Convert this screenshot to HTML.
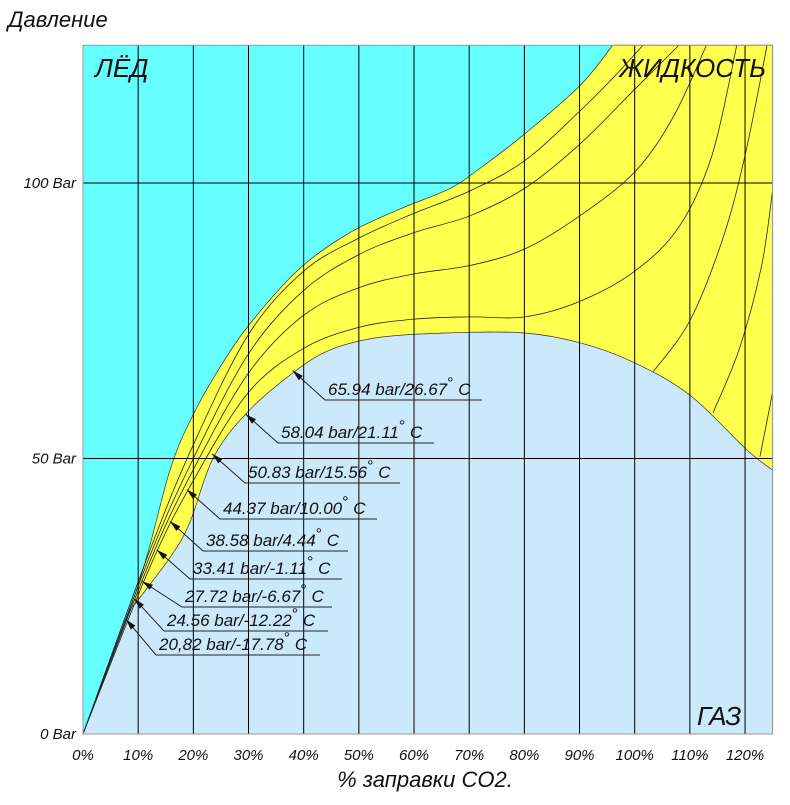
<!DOCTYPE html>
<html><head><meta charset="utf-8"><style>
body{margin:0;background:#fff;width:790px;height:800px;overflow:hidden}
svg text{font-family:"Liberation Sans",sans-serif;font-style:italic}
</style></head><body>
<svg id="c" width="790" height="800" xmlns="http://www.w3.org/2000/svg"></svg>
<script>
const xTicks=[0,10,20,30,40,50,60,70,80,90,100,110,120];
const yTicks=[0,50,100];
const liquidBoundary=[[0,0],[10,27],[15.8,48],[20,58],[24.8,66.5],[30.3,74.5],[39.3,84.5],[48.4,91],[57.5,95.3],[66.5,99],[72,102.7],[79.8,108.7],[90.1,117.7],[96,125]];
const gasDome=[[0,0],[7.8,20.7],[10,24.3],[16.1,32.5],[19.4,38.5],[23.6,50.1],[29.7,58.3],[38,65.5],[44.8,69.7],[53.8,72],[66.5,72.8],[79.8,72.8],[90.1,71],[99.7,67.5],[110,61.5],[120.4,51.5],[125,47.9]];
const isotherms=[
[[0,0],[12,30],[20,46],[30,62],[40,70],[50,73.8],[60,75.3],[70,75.7],[80,75.7],[90,78.5],[100,84],[108,92],[114,105],[118.5,125]],
[[0,0],[12,31],[20,48],[30,65.5],[40,76],[50,81],[60,83.5],[70,85],[80,88],[90,94],[100,102],[107,112],[113,125]],
[[0,0],[12,32],[20,50],[30,69],[40,80.5],[50,87],[60,91],[70,94],[80,99],[90,107],[100,117],[108,125]],
[[0,0],[12,33],[20,52.5],[30,72.5],[40,84],[50,90],[60,94.5],[70,98.5],[80,104],[90,113],[96,119],[101.5,125]],
[[103.3,65.7],[110,75],[116,90],[120,105],[124,125]],
[[114.2,58.3],[119,70],[123,85],[125,98.7]],
[[122.7,50.3],[125,62]]];
const labelPressures=[65.94,58.04,50.83,44.37,38.58,33.41,27.72,24.56,20.82];
const labelPct=[38,29.5,23.4,18.8,15.8,13.4,10.7,9.3,7.8];
const labelTexts=["65.94 bar/26.67","58.04 bar/21.11","50.83 bar/15.56","44.37 bar/10.00","38.58 bar/4.44","33.41 bar/-1.11","27.72 bar/-6.67","24.56 bar/-12.22","20,82 bar/-17.78"];
const labelElbowX=[325,278,245,220,203,190,182,164,156];
const labelElbowY=[400,443,483,519,551,579,607,631,655];
const labelLineEnd=[482,434,400,377,348,342,332,328,320];

const X0=83,XS=5.517,Y0=734,YS=5.51,XMAX=125;
const sx=v=>X0+v*XS, sy=v=>Y0-v*YS;
const svg=document.getElementById('c');
const NS='http://www.w3.org/2000/svg';
function mk(t,a,p){const e=document.createElementNS(NS,t);for(const k in a)e.setAttribute(k,a[k]);(p||svg).appendChild(e);return e;}
function smooth(pts){const P=pts.map(p=>[sx(p[0]),sy(p[1])]);let d='M'+P[0][0]+','+P[0][1];
for(let i=0;i<P.length-1;i++){const p0=P[i-1]||P[i],p1=P[i],p2=P[i+1],p3=P[i+2]||p2;
d+=' C'+(p1[0]+(p2[0]-p0[0])/6)+','+(p1[1]+(p2[1]-p0[1])/6)+' '+(p2[0]-(p3[0]-p1[0])/6)+','+(p2[1]-(p3[1]-p1[1])/6)+' '+p2[0]+','+p2[1];}return d;}

let e;
e=mk('rect',{x:sx(0),y:sy(125),width:sx(XMAX)-sx(0),height:sy(0)-sy(125),fill:'#66ffff'});


e=mk('path',{d:smooth(liquidBoundary)+' L'+sx(XMAX)+','+sy(125)+' L'+sx(XMAX)+','+sy(0)+' Z',fill:'#ffff4d',stroke:'#333','stroke-width':0.7});


e=mk('path',{d:smooth(gasDome)+' L'+sx(XMAX)+','+sy(0)+' Z',fill:'#cce9fc',stroke:'#333','stroke-width':0.7});


isotherms.forEach((iso,i)=>{
 e=mk('path',{d:smooth(iso),fill:'none',stroke:'#222','stroke-width':0.8});
 
 
});
xTicks.forEach(t=>{
 e=mk('line',{x1:sx(t),x2:sx(t),y1:sy(125),y2:sy(0),stroke:'#000','stroke-width':1});
 
 
 e=mk('text',{x:sx(t),y:760,'font-size':15,'text-anchor':'middle',fill:'#111'});
 e.textContent=t+'%';
 
 
});
yTicks.forEach(t=>{
 e=mk('line',{x1:sx(0),x2:sx(XMAX),y1:sy(t),y2:sy(t),stroke:'#000','stroke-width':1});
 
 
 e=mk('text',{x:76,y:sy(t)+5,'font-size':15,'text-anchor':'end',fill:'#111'});
 e.textContent=t+' Bar';
 
 
});
e=mk('rect',{x:sx(0),y:sy(125),width:sx(XMAX)-sx(0),height:sy(0)-sy(125),fill:'none',stroke:'#999','stroke-width':1});



labelPressures.forEach((p,i)=>{
 const tx=sx(labelPct[i]),ty=sy(p),ex=labelElbowX[i],ey=labelElbowY[i];
 const g=mk('g',{});
 
 
 mk('path',{d:'M'+tx+','+ty+' L'+ex+','+ey+' L'+labelLineEnd[i]+','+ey,fill:'none',stroke:'#222','stroke-width':1},g);
 const ang=Math.atan2(ey-ty,ex-tx),L=11,w=3;
 const bx=tx+L*Math.cos(ang),by=ty+L*Math.sin(ang);
 mk('polygon',{points:tx+','+ty+' '+(bx-w*Math.sin(ang))+','+(by+w*Math.cos(ang))+' '+(bx+w*Math.sin(ang))+','+(by-w*Math.cos(ang)),fill:'#111'},g);
 const t=mk('text',{x:ex+3,y:ey-5,'font-size':17,fill:'#111'},g);
 t.textContent=labelTexts[i];
 const s=mk('tspan',{dy:-7,'font-size':16,'font-style':'normal'},t);s.textContent='°';
 const s2=mk('tspan',{dy:7,'font-size':17},t);s2.textContent=' C';
});
</script>
<div style="position:absolute;left:0;top:0;width:790px;height:800px;pointer-events:none">
<svg width="790" height="800" xmlns="http://www.w3.org/2000/svg">
<text x="8" y="27" font-size="22" font-style="italic" font-family="Liberation Sans, sans-serif" fill="#111">Давление</text>
<text x="425" y="787" font-size="22" font-style="italic" font-family="Liberation Sans, sans-serif" text-anchor="middle" fill="#111">% заправки CO2.</text>
<text x="95" y="77" font-size="26" font-style="italic" font-family="Liberation Sans, sans-serif" fill="#111">ЛЁД</text>
<text x="766" y="77" font-size="26" font-style="italic" font-family="Liberation Sans, sans-serif" text-anchor="end" fill="#111">ЖИДКОСТЬ</text>
<text x="697" y="725" font-size="26" font-style="italic" font-family="Liberation Sans, sans-serif" fill="#111">ГАЗ</text>
</svg></div>
</body></html>
